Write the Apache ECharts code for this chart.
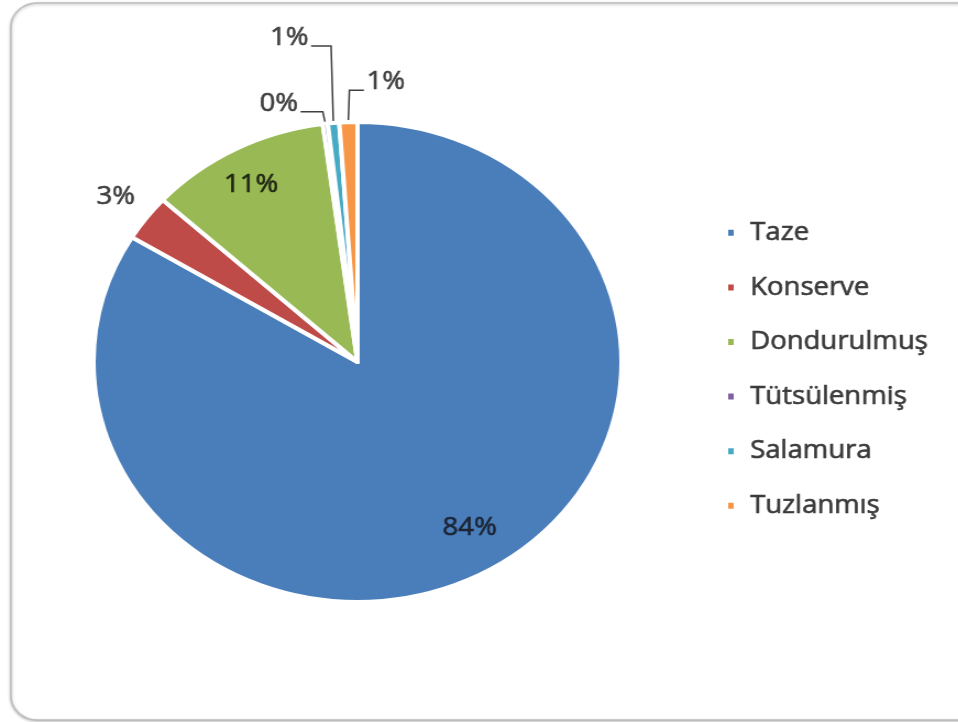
<!DOCTYPE html>
<html><head><meta charset="utf-8">
<script src="https://cdn.jsdelivr.net/npm/echarts@6/dist/echarts.min.js"></script>
<style>
html,body{margin:0;padding:0;background:#fff;overflow:hidden}
#wrap{width:958px;height:722px;overflow:hidden;position:relative;background:#fff}
#c{width:871px;height:722px;transform:scaleX(1.1);transform-origin:0 0;}
</style></head>
<body><div id="wrap"><div id="c"></div></div>
<script>
// ---- data ----
const categories = ['Taze', 'Konserve', 'Dondurulmuş', 'Tütsülenmiş', 'Salamura', 'Tuzlanmış'];
const values = [83.7, 3.1, 11.1, 0.3, 0.7, 1.1];
// ---- style ----
const colors = ['#4A7EBB', '#BE4B48', '#98B954', '#7D60A0', '#46AAC5', '#F79646'];
const CX = 325, CY = 362, R = 240;
const FONT = 'Open Sans';
// label placement style: radial factor for inner/outer labels, or callout offsets
const labelStyle = {
  'Taze':        {mode: 'radial', k: 0.81, da: -0.04, color: '#1c2433'},
  'Konserve':    {mode: 'radial', k: 1.145, da: 0, color: '#404040'},
  'Dondurulmuş': {mode: 'radial', k: 0.84, da: -0.02, color: '#1f2614'},
  'Tütsülenmiş': {mode: 'callout', dx: -42, dy: -18, side: 'left'},
  'Salamura':    {mode: 'callout', dx: -40, dy: -83, side: 'left'},
  'Tuzlanmış':   {mode: 'callout', dx: 34, dy: -38, side: 'right'}
};

const total = values.reduce((a, b) => a + b, 0);
const midAngles = [];
let acc = 0;
values.forEach(v => { midAngles.push((acc + v / 2) / total * 2 * Math.PI); acc += v; });

const chart = echarts.init(document.getElementById('c'), null, {renderer: 'canvas'});

const heavy = {textBorderWidth: 0.6};

chart.setOption({
  animation: false,
  color: colors,
  graphic: [{
    type: 'rect', silent: true, z: -10,
    shape: {x: 10, y: 3, width: 885, height: 717, r: 24},
    style: {fill: '#fff', stroke: '#bdbdbd', lineWidth: 1.5,
      shadowBlur: 3, shadowColor: 'rgba(0,0,0,0.25)', shadowOffsetX: 0, shadowOffsetY: 1}
  }],
  legend: {
    orient: 'vertical', left: 655, top: 215,
    icon: 'rect', itemWidth: 7, itemHeight: 8, itemGap: 29,
    selectedMode: false,
    textStyle: Object.assign({fontFamily: FONT, fontSize: 25, lineHeight: 25, color: '#3a3a3a',
      textBorderColor: '#3a3a3a', padding: [0, 0, 0, 9]}, heavy),
    data: categories
  },
  series: [{
    type: 'pie',
    center: [CX, CY], radius: R,
    startAngle: 90, clockwise: true,
    avoidLabelOverlap: false,
    silent: true,
    itemStyle: {borderColor: '#fff', borderWidth: 4},
    label: Object.assign({
      show: true, position: 'outside', formatter: '{d}%',
      fontFamily: FONT, fontSize: 25, color: '#404040', textBorderColor: '#404040'
    }, heavy),
    labelLine: {show: true, length: 10, length2: 10, lineStyle: {color: '#404040', width: 1.5}},
    percentPrecision: 0,
    data: categories.map((name, i) => {
      const s = labelStyle[name];
      return {
        name, value: values[i],
        label: s.color ? {color: s.color, textBorderColor: s.color} : {},
        labelLine: {show: s.mode === 'callout'}
      };
    }),
    labelLayout: function (p) {
      const i = p.dataIndex;
      const name = categories[i];
      const s = labelStyle[name];
      const a = midAngles[i];
      const w = p.labelRect.width;
      if (s.mode === 'radial') {
        const b = a + s.da;
        return {
          x: CX + Math.sin(b) * R * s.k,
          y: CY - Math.cos(b) * R * s.k,
          align: 'center', verticalAlign: 'middle'
        };
      }
      const ax = CX + Math.sin(a) * (R + 2);
      const ay = CY - Math.cos(a) * (R + 2);
      const tx = ax + s.dx, ty = ay + s.dy;
      const ey = ty + 8;
      const ex = s.side === 'left' ? tx + w / 2 + 2 : tx - w / 2 - 2;
      return {
        x: tx, y: ty, align: 'center', verticalAlign: 'middle',
        labelLinePoints: [[ax, ay], [ax + (s.side === 'left' ? -2 : 1), ey], [ex, ey]]
      };
    }
  }]
});
</script>
</body></html>
